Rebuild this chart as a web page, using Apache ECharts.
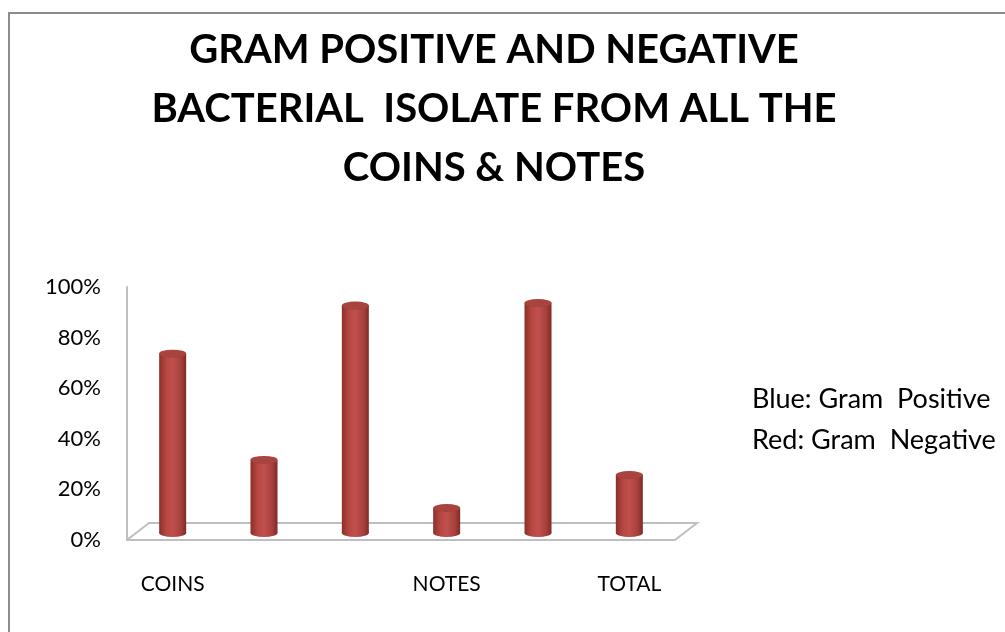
<!DOCTYPE html>
<html>
<head>
<meta charset="utf-8">
<script src="https://cdn.jsdelivr.net/npm/echarts@6/dist/echarts.min.js"></script>
<style>
html,body{margin:0;padding:0;background:#fff;}
#chart{width:1005px;height:632px;}
</style>
</head>
<body>
<div id="chart"></div>
<script>
const titleLines = ["GRAM POSITIVE AND NEGATIVE", "BACTERIAL  ISOLATE FROM ALL THE", "COINS & NOTES"];
const categories = ["COINS", "", "", "NOTES", "", "TOTAL"];
const values = [71, 29, 90, 10, 91, 23];
const yTicks = [0, 20, 40, 60, 80, 100];
const legendLines = ["Blue: Gram  Positive", "Red: Gram  Negative"];

const FONT = "Lato, 'Open Sans', sans-serif";
const chart = echarts.init(document.getElementById('chart'), null, {renderer: 'canvas'});

const cylGrad = new echarts.graphic.LinearGradient(0, 0, 1, 0, [
  {offset: 0, color: '#8a2f2c'},
  {offset: 0.25, color: '#b5463f'},
  {offset: 0.5, color: '#c0504d'},
  {offset: 0.8, color: '#a8403c'},
  {offset: 1, color: '#7e2a27'}
]);

const option = {
  animation: false,
  backgroundColor: '#fff',
  title: {
    text: titleLines.join('\n'),
    left: 489, top: 16, textAlign: 'center',
    textStyle: {fontFamily: FONT, fontWeight: 'bold', fontSize: 40, lineHeight: 59, color: '#000'}
  },
  grid: [
    {left: 127, right: 330, top: 287, bottom: 92},
    {left: 127, right: 330, top: 280, bottom: 99}
  ],
  xAxis: [
    {type: 'category', gridIndex: 0, data: categories,
     axisLine: {show: true, lineStyle: {color: '#bfbfbf', width: 2}},
     axisTick: {show: false},
     axisLabel: {fontFamily: FONT, fontSize: 21, color: '#000', margin: 34, interval: 0}},
    {type: 'category', gridIndex: 1, data: categories, show: false}
  ],
  yAxis: [
    {type: 'value', gridIndex: 0, min: 0, max: 100, interval: 20,
     axisLine: {show: true, lineStyle: {color: '#bfbfbf', width: 2}},
     axisTick: {show: false}, splitLine: {show: false},
     axisLabel: {fontFamily: FONT, fontSize: 22, color: '#000', margin: 26,
       formatter: v => yTicks.indexOf(v) >= 0 ? v + '%' : ''}},
    {type: 'value', gridIndex: 1, min: 0, max: 100, show: false}
  ],
  series: [
    {type: 'bar', xAxisIndex: 1, yAxisIndex: 1, data: values, barWidth: 27,
     itemStyle: {color: cylGrad}, z: 2},
    {type: 'pictorialBar', xAxisIndex: 1, yAxisIndex: 1, data: values,
     symbol: 'circle', symbolSize: [27, 8], symbolPosition: 'end', symbolOffset: [0, '-50%'],
     itemStyle: {color: '#a9433f', borderColor: '#8a302d', borderWidth: 1}, z: 4},
    {type: 'pictorialBar', xAxisIndex: 1, yAxisIndex: 1, data: values,
     symbol: 'circle', symbolSize: [27, 8], symbolPosition: 'start', symbolOffset: [0, '50%'],
     itemStyle: {color: cylGrad}, z: 1}
  ],
  graphic: []
};
chart.setOption(option);

// frame and 3D floor derived from grid geometry
const gridRect = chart.getModel().getComponent('grid', 0).coordinateSystem.getRect();
const fx0 = gridRect.x, fx1 = gridRect.x + gridRect.width, fy = gridRect.y + gridRect.height;
const dx = 22, dy = 17;
chart.setOption({
  graphic: [
    {type: 'polyline', shape: {points: [[9, 632], [9, 13], [1005, 13]]},
     style: {stroke: '#8c8c8c', lineWidth: 2, fill: null}, z: 0},
    {type: 'polyline', shape: {points: [[fx0, fy], [fx0 + dx, fy - dy], [fx1 + dx, fy - dy], [fx1, fy]]},
     style: {stroke: '#bfbfbf', lineWidth: 2, fill: null}, z: 0},
    {type: 'text', left: 752, top: 379,
     style: {text: legendLines.join('\n'), font: '27px ' + FONT, lineHeight: 41, fill: '#000'}}
  ]
});
</script>
</body>
</html>
